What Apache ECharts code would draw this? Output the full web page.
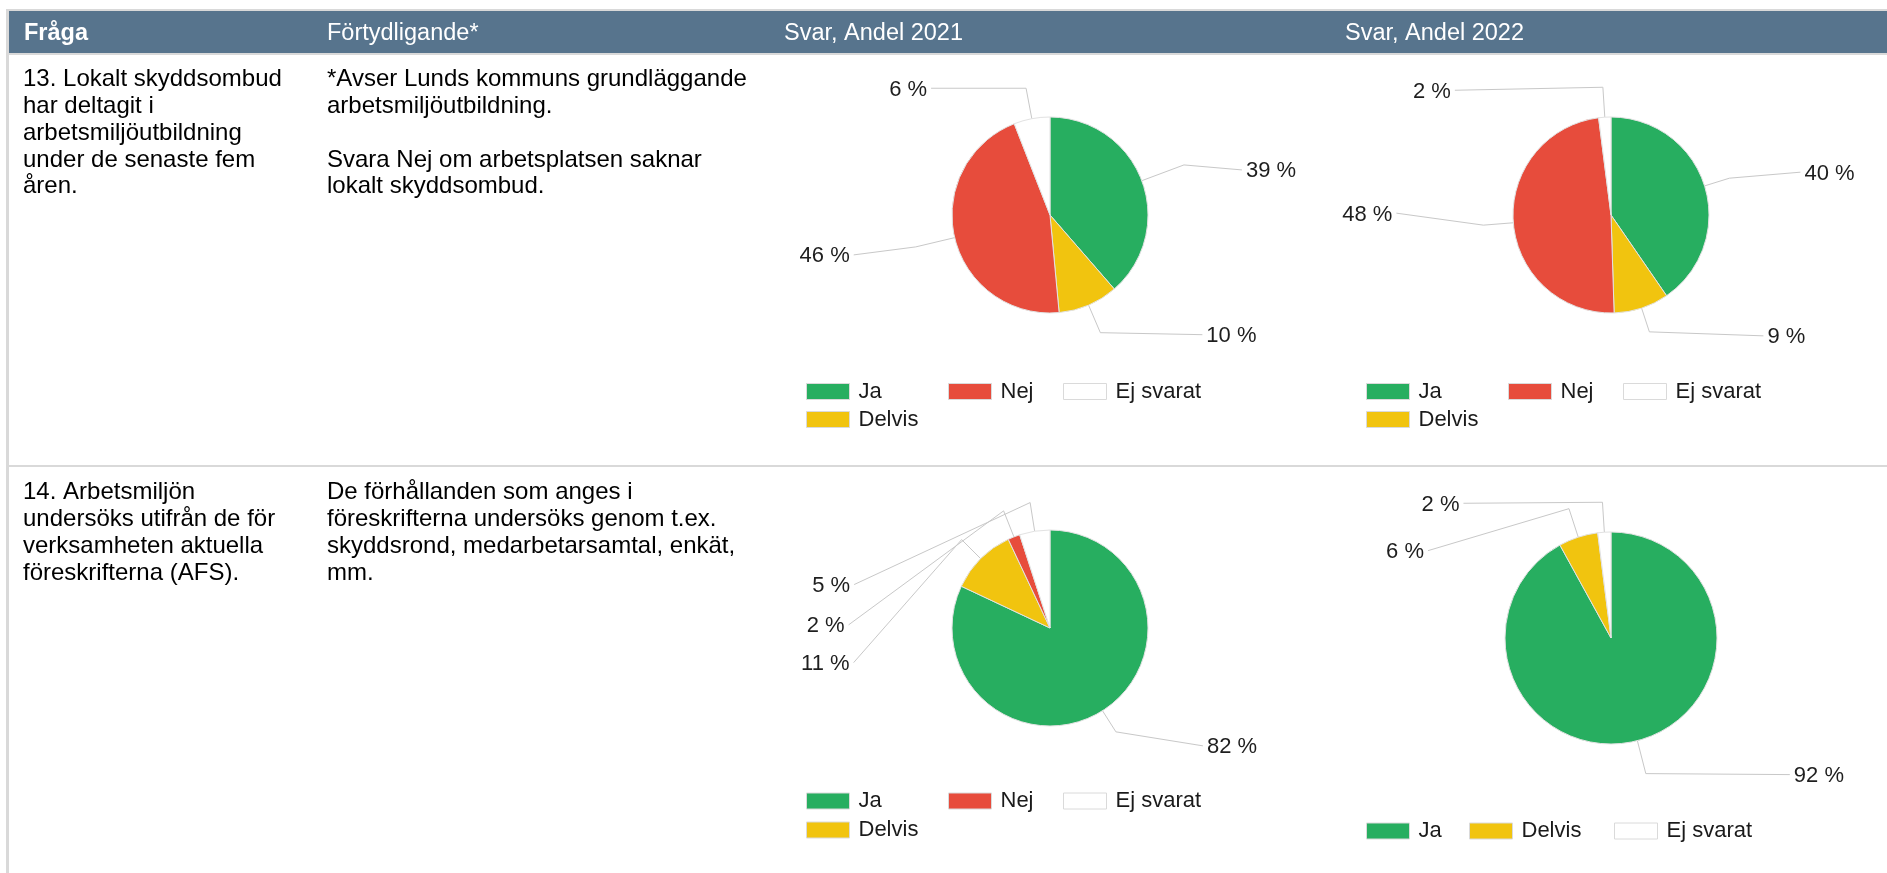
<!DOCTYPE html>
<html>
<head>
<meta charset="utf-8">
<script src="https://cdn.jsdelivr.net/npm/echarts@6/dist/echarts.min.js"></script>
<style>
html,body{margin:0;padding:0;background:#ffffff;}
#c{width:1887px;height:873px;}
</style>
</head>
<body>
<div id="c"></div>
<script>
// ---------------- DATA ----------------
const headers = ['Fråga', 'Förtydligande*', 'Svar, Andel 2021', 'Svar, Andel 2022'];
const q13Question = ['13. Lokalt skyddsombud', 'har deltagit i', 'arbetsmiljöutbildning', 'under de senaste fem', 'åren.'];
const q13Note = ['*Avser Lunds kommuns grundläggande', 'arbetsmiljöutbildning.', '', 'Svara Nej om arbetsplatsen saknar', 'lokalt skyddsombud.'];
const q14Question = ['14. Arbetsmiljön', 'undersöks utifrån de för', 'verksamheten aktuella', 'föreskrifterna (AFS).'];
const q14Note = ['De förhållanden som anges i', 'föreskrifterna undersöks genom t.ex.', 'skyddsrond, medarbetarsamtal, enkät,', 'mm.'];

const answers = ['Ja', 'Delvis', 'Nej', 'Ej svarat'];
const answersQ14_2022 = ['Ja', 'Delvis', 'Ej svarat'];
const q13_2021 = [39, 10, 46, 6];
const q13_2022 = [40, 9, 48, 2];
const q14_2021 = [82, 11, 2, 5];
const q14_2022 = [92, 6, 2];

// ---------------- STYLE / LAYOUT ----------------
const FONT = "'Liberation Sans', Arial, Helvetica, sans-serif";
const colors = { 'Ja': '#27ae60', 'Delvis': '#f1c40f', 'Nej': '#e74c3c', 'Ej svarat': '#ffffff' };
const TEXT_SIZE = 24;
const HEADER_SIZE = 23.5;
const LINE_H = 26.8;

// leader: [stub length, dx, dy] per slice (in data order)
const pies = [
  { id: 'q13_2021', cats: answers, vals: q13_2021, center: [1050, 215], r: 98,
    leaders: [[45, 58, 5], [30, 102, 2], [40, -62, 8], [31, -95, 0]],
    legend: [['Ja', 806, 0], ['Nej', 948, 0], ['Ej svarat', 1063, 0], ['Delvis', 806, 1]], legendRows: [391.5, 419.5] },
  { id: 'q13_2022', cats: answers, vals: q13_2022, center: [1611, 215], r: 98,
    leaders: [[26, 71, -6], [25, 114, 4], [30, -87, -12], [30, -148, 3]],
    legend: [['Ja', 1366, 0], ['Nej', 1508, 0], ['Ej svarat', 1623, 0], ['Delvis', 1366, 1]], legendRows: [391.5, 419.5] },
  { id: 'q14_2021', cats: answers, vals: q14_2021, center: [1050, 628], r: 98,
    leaders: [[25, 87, 14], [27, -108, 123], [28, -155, 114], [29, -176, 82]],
    legend: [['Ja', 806, 0], ['Nej', 948, 0], ['Ej svarat', 1063, 0], ['Delvis', 806, 1]], legendRows: [801, 830] },
  { id: 'q14_2022', cats: answersQ14_2022, vals: q14_2022, center: [1611, 638], r: 106,
    leaders: [[34, 144, 1], [30, -141, 42], [30, -139, 1]],
    legend: [['Ja', 1366, 0], ['Delvis', 1469, 0], ['Ej svarat', 1614, 0]], legendRows: [831] }
];

// ---------------- BUILD ----------------
function makeLabelLayout(leaders) {
  return function (params) {
    const lp = params.labelLinePoints;
    const ld = leaders[params.dataIndex];
    if (!lp || !ld) return {};
    const a = lp[0], b = lp[1];
    const vx = b[0] - a[0], vy = b[1] - a[1];
    const n = Math.hypot(vx, vy) || 1;
    const s = [a[0] + vx / n * ld[0], a[1] + vy / n * ld[0]];
    const e = [s[0] + ld[1], s[1] + ld[2]];
    const left = ld[1] < 0;
    return {
      x: e[0] + (left ? -4 : 4),
      y: e[1] + 1.5,
      align: left ? 'right' : 'left',
      verticalAlign: 'middle',
      labelLinePoints: [a, s, e]
    };
  };
}

const series = pies.map(p => ({
  type: 'pie',
  id: p.id,
  name: p.id,
  center: p.center,
  radius: p.r,
  startAngle: 90,
  clockwise: true,
  avoidLabelOverlap: false,
  animation: false,
  silent: true,
  data: p.cats.map((c, i) => ({ name: c, value: p.vals[i], itemStyle: { color: colors[c] } })),
  itemStyle: { borderColor: '#e2e2e2', borderWidth: 1 },
  label: {
    show: true, position: 'outside',
    formatter: '{c} %',
    fontSize: 22, fontFamily: FONT, color: '#1e1e1e'
  },
  labelLine: { show: true, length: 20, length2: 20, smooth: false, lineStyle: { color: '#c8c8c8', width: 1 } },
  labelLayout: makeLabelLayout(p.leaders),
  emphasis: { disabled: true }
}));

const legends = [];
pies.forEach(p => {
  p.legend.forEach(([name, x, row]) => {
    legends.push({
      show: true,
      data: [name],
      left: x,
      top: p.legendRows[row] - 11,
      orient: 'horizontal',
      padding: 0,
      itemGap: 0,
      itemWidth: 43,
      itemHeight: 16,
      icon: 'rect',
      selectedMode: false,
      itemStyle: { borderColor: '#dadada', borderWidth: 1 },
      textStyle: { fontSize: 22, fontFamily: FONT, color: '#1a1a1a', padding: [0, 0, 0, 4] }
    });
  });
});

const g = [];
// table frame
g.push({ type: 'rect', silent: true, shape: { x: 6, y: 9, width: 1881, height: 46 }, style: { fill: '#d9d9d9' } });
g.push({ type: 'rect', silent: true, shape: { x: 9, y: 11, width: 1878, height: 42 }, style: { fill: '#57748d' } });
g.push({ type: 'rect', silent: true, shape: { x: 6, y: 9, width: 3, height: 864 }, style: { fill: '#d9d9d9' } });
g.push({ type: 'rect', silent: true, shape: { x: 6, y: 465, width: 1881, height: 2 }, style: { fill: '#d9d9d9' } });

const headerX = [24, 327, 784, 1345];
headers.forEach((h, i) => {
  g.push({ type: 'text', silent: true, x: headerX[i], y: 34,
    style: { text: h, fill: '#ffffff', fontSize: HEADER_SIZE, fontFamily: FONT, fontWeight: i === 0 ? 'bold' : 'normal',
      align: 'left', verticalAlign: 'middle', textAlign: 'left', textVerticalAlign: 'middle' } });
});

function block(lines, x, y0) {
  lines.forEach((ln, i) => {
    if (!ln) return;
    g.push({ type: 'text', silent: true, x: x, y: y0 + i * LINE_H,
      style: { text: ln, fill: '#000000', fontSize: TEXT_SIZE, fontFamily: FONT,
        align: 'left', verticalAlign: 'middle', textAlign: 'left', textVerticalAlign: 'middle' } });
  });
}
block(q13Question, 23, 79.5);
block(q13Note, 327, 79.5);
block(q14Question, 23, 492.5);
block(q14Note, 327, 492.5);

const chart = echarts.init(document.getElementById('c'), null, { renderer: 'canvas', width: 1887, height: 873 });
chart.setOption({
  backgroundColor: '#ffffff',
  animation: false,
  tooltip: { show: false },
  legend: legends,
  graphic: { elements: g },
  series: series
});
</script>
</body>
</html>
